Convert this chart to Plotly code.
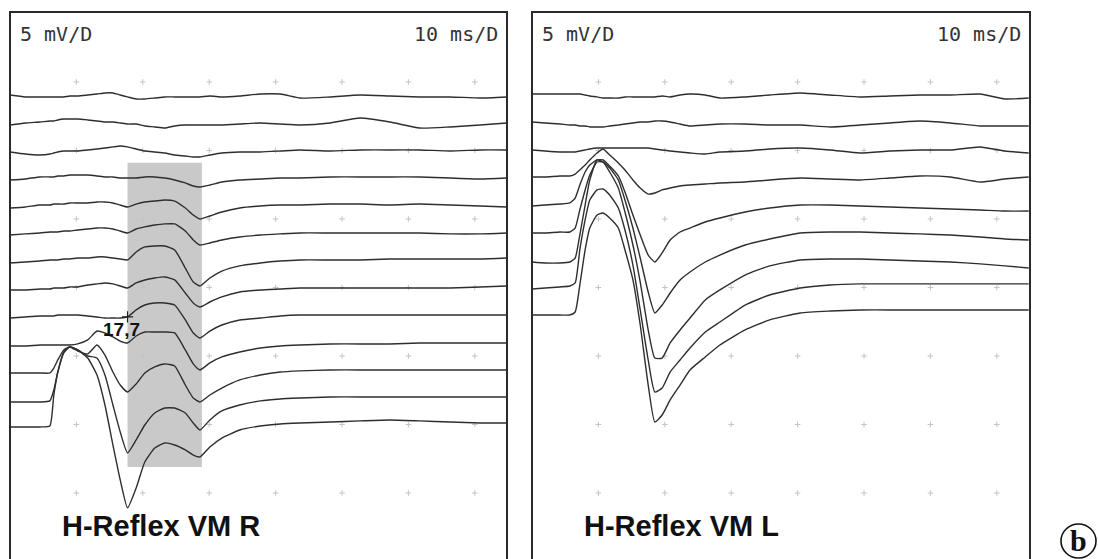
import plotly.graph_objects as go

W, H = 1098, 559

# ---------------- data (ms, mV) ----------------
left_t = [0.0, 2.3, 4.5, 6.0, 6.6, 7.2, 8.1, 9.0, 10.2, 11.7, 13.1, 14.3, 15.5, 16.6, 17.7, 19.0,
          20.3, 21.8, 23.3, 24.8, 26.4, 27.6, 28.6, 30.1, 31.9, 34.6, 37.7, 40.7, 43.7, 48.2,
          52.7, 57.2, 61.7, 66.3, 70.8, 74.8]

r_sweep_01 = [-5.95, -6.09, -6.09, -6.09, -6.09, -6.09, -6.09, -6.02, -6.02, -5.95, -5.88, -5.80, -5.80, -5.95, -6.09, -6.24, -6.24, -6.17, -6.09, -6.09, -6.09, -6.09, -6.09, -6.02, -6.09, -6.02, -5.88, -5.88, -6.17, -6.09, -5.95, -6.02, -6.09, -6.09, -6.17, -6.09]
r_sweep_02 = [-8.14, -7.99, -7.92, -7.85, -7.85, -7.77, -7.70, -7.70, -7.70, -7.77, -7.85, -7.92, -7.92, -7.99, -8.07, -8.07, -8.21, -8.28, -8.36, -8.21, -8.14, -8.14, -8.14, -8.14, -8.14, -8.07, -7.99, -8.07, -8.14, -7.99, -7.63, -7.92, -8.36, -8.28, -8.14, -7.99]
r_sweep_03 = [-10.11, -10.26, -10.33, -10.26, -10.18, -10.11, -10.04, -10.04, -10.04, -9.96, -9.89, -9.82, -9.74, -9.67, -9.74, -9.89, -10.04, -10.11, -10.18, -10.33, -10.40, -10.47, -10.47, -10.33, -10.18, -10.11, -10.11, -10.04, -9.96, -10.04, -9.96, -9.96, -9.96, -10.04, -9.96, -9.96]
r_sweep_04 = [-12.15, -12.08, -11.93, -11.93, -11.93, -11.86, -11.86, -11.79, -11.79, -11.79, -11.86, -11.93, -11.93, -12.01, -12.01, -12.01, -11.93, -11.93, -12.01, -12.15, -12.37, -12.59, -12.66, -12.52, -12.30, -12.15, -12.08, -12.01, -12.01, -11.93, -11.93, -11.93, -11.93, -12.01, -12.08, -12.01]
r_sweep_05 = [-14.20, -14.12, -13.98, -13.98, -13.91, -13.91, -13.91, -13.83, -13.83, -13.83, -13.76, -13.76, -13.83, -13.98, -14.12, -13.91, -13.76, -13.69, -13.61, -13.69, -14.20, -14.71, -15.00, -14.78, -14.49, -14.20, -14.05, -13.98, -13.98, -13.91, -13.91, -13.98, -13.91, -13.98, -14.05, -14.12]
r_sweep_06 = [-16.17, -16.09, -16.02, -15.95, -15.95, -15.95, -15.88, -15.88, -15.80, -15.73, -15.66, -15.66, -15.73, -15.88, -16.02, -15.73, -15.58, -15.44, -15.36, -15.36, -15.88, -16.53, -16.90, -16.75, -16.53, -16.31, -16.17, -16.09, -16.02, -16.02, -16.02, -16.02, -16.02, -16.09, -16.09, -16.02]
r_sweep_07 = [-18.21, -18.14, -18.07, -17.99, -17.99, -17.99, -17.92, -17.92, -17.85, -17.85, -17.77, -17.77, -17.85, -17.92, -17.99, -17.41, -17.04, -16.97, -16.97, -17.26, -18.58, -19.60, -19.89, -19.31, -18.80, -18.42, -18.21, -18.07, -17.99, -17.99, -17.99, -17.92, -17.92, -17.92, -17.92, -17.85]
r_sweep_08 = [-20.18, -20.18, -20.11, -20.11, -20.04, -20.04, -20.04, -19.96, -19.96, -19.82, -19.74, -19.67, -19.74, -19.89, -20.04, -19.67, -19.45, -19.31, -19.23, -19.45, -20.40, -21.13, -21.42, -21.06, -20.69, -20.33, -20.18, -20.11, -20.04, -20.04, -20.04, -20.04, -20.04, -20.04, -19.96, -19.89]
r_sweep_09 = [-22.23, -22.15, -22.08, -22.08, -22.08, -22.01, -22.01, -22.01, -22.01, -22.08, -22.15, -22.23, -22.23, -22.23, -22.15, -21.64, -21.28, -21.13, -21.13, -21.28, -22.37, -23.32, -23.69, -23.18, -22.74, -22.37, -22.23, -22.08, -22.01, -22.01, -22.01, -22.01, -22.01, -22.01, -22.01, -22.01]
r_sweep_10 = [-24.27, -24.27, -24.20, -24.20, -24.20, -24.20, -24.20, -24.20, -24.12, -23.83, -23.18, -23.32, -23.61, -23.91, -24.05, -23.54, -23.25, -23.25, -23.25, -23.32, -24.56, -25.58, -26.02, -25.51, -25.07, -24.71, -24.42, -24.27, -24.20, -24.12, -24.12, -24.12, -24.05, -24.05, -24.05, -24.05]
r_sweep_11 = [-26.24, -26.24, -26.24, -26.24, -25.88, -25.29, -24.56, -24.34, -24.64, -24.85, -24.20, -24.93, -26.17, -27.12, -27.63, -27.04, -26.24, -25.80, -25.58, -25.73, -27.12, -28.07, -28.36, -27.85, -27.34, -26.75, -26.39, -26.17, -26.09, -26.02, -26.02, -26.02, -26.02, -26.02, -26.02, -26.02]
r_sweep_12 = [-28.36, -28.36, -28.36, -28.28, -27.48, -26.17, -24.78, -24.34, -24.56, -25.00, -25.15, -26.39, -28.58, -30.55, -32.08, -31.13, -30.04, -29.16, -28.80, -28.80, -29.16, -29.89, -30.40, -29.67, -29.01, -28.58, -28.28, -28.14, -28.07, -27.99, -27.99, -27.99, -27.99, -27.99, -27.99, -27.99]
r_sweep_13 = [-30.18, -30.18, -30.18, -30.11, -27.85, -26.17, -24.71, -24.34, -24.56, -25.15, -26.39, -28.58, -31.50, -34.05, -36.09, -34.64, -32.74, -31.72, -31.35, -31.50, -31.86, -32.23, -32.37, -31.64, -30.99, -30.40, -30.11, -29.96, -29.89, -29.82, -29.74, -29.67, -29.74, -29.82, -29.89, -29.89]

right_t = [0.0, 2.0, 4.2, 5.7, 6.5, 7.2, 8.0, 8.7, 9.8, 10.7, 11.7, 13.0, 14.0, 15.2, 16.3, 17.5,
           18.5, 19.6, 20.8, 22.3, 23.8, 26.1, 28.3, 32.1, 35.8, 40.4, 44.9, 49.4, 53.9, 58.4,
           63.0, 67.5, 71.2, 74.8]

l_sweep_01 = [-5.88, -5.88, -5.88, -5.88, -5.88, -5.88, -5.95, -6.02, -6.09, -6.17, -6.17, -6.17, -6.09, -6.09, -6.09, -6.09, -6.09, -6.02, -6.09, -5.95, -5.88, -5.95, -6.17, -6.09, -5.95, -5.80, -5.95, -6.09, -6.02, -5.95, -5.95, -5.88, -6.24, -6.17]
l_sweep_02 = [-7.92, -7.99, -8.07, -8.14, -8.14, -8.21, -8.21, -8.28, -8.28, -8.28, -8.21, -8.14, -8.07, -7.99, -7.92, -7.92, -7.85, -7.85, -7.92, -8.07, -8.21, -8.14, -8.07, -8.07, -8.14, -8.14, -8.28, -8.14, -7.99, -7.85, -7.99, -8.21, -8.21, -8.21]
l_sweep_03 = [-9.96, -10.04, -10.11, -10.11, -10.11, -10.04, -9.96, -9.89, -9.82, -9.82, -9.82, -9.82, -9.82, -9.82, -9.82, -9.82, -9.89, -9.96, -10.04, -10.11, -10.18, -10.26, -10.11, -10.04, -9.89, -9.82, -9.96, -10.18, -10.04, -9.96, -9.96, -9.74, -10.04, -10.18]
l_sweep_04 = [-11.93, -11.93, -11.86, -11.86, -11.72, -11.42, -11.06, -10.69, -10.18, -9.89, -10.33, -10.91, -11.42, -12.15, -12.74, -13.18, -13.10, -12.88, -12.74, -12.59, -12.52, -12.45, -12.37, -12.30, -12.15, -12.01, -12.08, -12.15, -12.01, -11.86, -11.93, -12.30, -12.08, -11.93]
l_sweep_05 = [-14.05, -13.98, -13.91, -13.83, -13.47, -12.52, -11.57, -11.06, -10.69, -10.69, -11.13, -11.86, -13.03, -14.71, -16.17, -17.63, -18.14, -17.48, -16.53, -15.95, -15.66, -15.22, -14.93, -14.49, -14.20, -13.98, -13.98, -14.05, -14.12, -14.20, -14.27, -14.34, -14.42, -14.42]
l_sweep_06 = [-16.02, -16.02, -15.95, -15.95, -15.66, -14.34, -12.88, -11.79, -10.84, -10.84, -11.28, -12.15, -13.61, -15.66, -17.85, -20.33, -21.86, -21.28, -20.40, -19.45, -18.87, -18.14, -17.63, -16.90, -16.46, -16.02, -15.95, -15.95, -16.02, -16.09, -16.17, -16.31, -16.46, -16.53]
l_sweep_07 = [-18.14, -18.21, -18.21, -18.14, -17.85, -16.17, -13.98, -12.15, -10.69, -10.84, -11.57, -12.74, -14.49, -16.90, -19.60, -23.10, -25.15, -25.15, -24.05, -23.10, -22.23, -20.91, -20.18, -19.09, -18.42, -17.99, -17.92, -17.92, -17.99, -18.07, -18.14, -18.28, -18.42, -18.58]
l_sweep_08 = [-20.11, -20.04, -19.96, -19.89, -19.67, -17.26, -15.07, -13.61, -12.88, -12.81, -13.25, -14.20, -15.80, -18.36, -21.64, -25.29, -27.63, -27.34, -26.17, -25.29, -24.42, -23.25, -22.52, -21.28, -20.55, -20.04, -19.82, -19.74, -19.74, -19.74, -19.74, -19.74, -19.74, -19.74]
l_sweep_09 = [-22.01, -22.01, -22.01, -22.01, -21.79, -19.82, -17.26, -15.66, -14.71, -14.56, -14.93, -15.66, -17.26, -19.45, -22.74, -27.12, -29.82, -29.31, -28.21, -27.12, -26.02, -25.07, -24.20, -23.10, -22.37, -21.86, -21.72, -21.64, -21.64, -21.64, -21.64, -21.64, -21.64, -21.64]

right_sweeps = [r_sweep_01, r_sweep_02, r_sweep_03, r_sweep_04, r_sweep_05, r_sweep_06, r_sweep_07,
                r_sweep_08, r_sweep_09, r_sweep_10, r_sweep_11, r_sweep_12, r_sweep_13]
left_sweeps = [l_sweep_01, l_sweep_02, l_sweep_03, l_sweep_04, l_sweep_05, l_sweep_06, l_sweep_07,
               l_sweep_08, l_sweep_09]

grid_t = [10, 20, 30, 40, 50, 60, 70]
grid_mv = [-5, -10, -15, -20, -25, -30, -35]

h_window = [17.7, 28.9]          # ms, shaded H-wave window (right leg)
h_window_mv = [-10.9, -33.1]
latency_ms, latency_mv = 17.7, -22.15
latency_label = "17,7"

panel_titles = ["H-Reflex VM R", "H-Reflex VM L"]
scale_v = "5 mV/D"
scale_t = "10 ms/D"

# ---------------- figure ----------------
TRACE_COL = "#2e2e2e"
FRAME_COL = "#2a2a2a"

fig = go.Figure()

def px(x):
    return x / W

def py(y):
    return 1 - y / H

for xa, ya in (("x", "y"), ("x2", "y2")):
    gx = [t for t in grid_t for _ in grid_mv]
    gy = [v for _ in grid_t for v in grid_mv]
    fig.add_trace(go.Scatter(x=gx, y=gy, xaxis=xa, yaxis=ya, mode="markers",
                             marker=dict(symbol="cross-thin", size=4,
                                         line=dict(color="#c4c4c4", width=1)),
                             hoverinfo="skip", showlegend=False))

for s in right_sweeps:
    fig.add_trace(go.Scatter(x=left_t, y=s, xaxis="x", yaxis="y", mode="lines",
                             line=dict(color=TRACE_COL, width=1.4, shape="spline", smoothing=0.5),
                             hoverinfo="skip", showlegend=False))
for s in left_sweeps:
    fig.add_trace(go.Scatter(x=right_t, y=s, xaxis="x2", yaxis="y2", mode="lines",
                             line=dict(color=TRACE_COL, width=1.4, shape="spline", smoothing=0.5),
                             hoverinfo="skip", showlegend=False))

fig.add_trace(go.Scatter(x=[latency_ms], y=[latency_mv], xaxis="x", yaxis="y", mode="markers",
                         marker=dict(symbol="cross-thin", size=8, line=dict(color="#222", width=1.2)),
                         hoverinfo="skip", showlegend=False))

axis_common = dict(visible=False, fixedrange=True)
fig.update_layout(
    width=W, height=H,
    margin=dict(l=0, r=0, t=0, b=0),
    paper_bgcolor="white", plot_bgcolor="rgba(0,0,0,0)",
    xaxis=dict(domain=[px(10), px(508)], range=[0, 75], anchor="y", **axis_common),
    yaxis=dict(domain=[0, py(12)], range=[-39.82, 0.11], anchor="x", **axis_common),
    xaxis2=dict(domain=[px(532), px(1030)], range=[0, 75], anchor="y2", **axis_common),
    yaxis2=dict(domain=[0, py(12)], range=[-39.82, 0.11], anchor="x2", **axis_common),
    showlegend=False,
)

shapes = [
    dict(type="rect", xref="x", yref="y", x0=h_window[0], x1=h_window[1],
         y0=h_window_mv[1], y1=h_window_mv[0], fillcolor="#c9c9c9", line=dict(width=0),
         layer="below"),
]
for L, R in ((10, 507), (532, 1030)):
    path = f"M {px(L)},{py(H)} L {px(L)},{py(12)} L {px(R)},{py(12)} L {px(R)},{py(H)}"
    shapes.append(dict(type="path", xref="paper", yref="paper", path=path,
                       line=dict(color=FRAME_COL, width=2)))
shapes.append(dict(type="circle", xref="paper", yref="paper",
                   x0=px(1061), x1=px(1096), y0=py(558), y1=py(524),
                   line=dict(color="#111", width=1.6)))
fig.update_layout(shapes=shapes)

mono = "DejaVu Sans Mono"
ann = []
for L, R in ((10, 507), (532, 1030)):
    ann.append(dict(text=scale_v, x=px(L + 8), y=py(34), xref="paper", yref="paper",
                    xanchor="left", yanchor="middle", showarrow=False,
                    font=dict(family=mono, size=20, color="#333")))
    ann.append(dict(text=scale_t, x=px(R - 7), y=py(34), xref="paper", yref="paper",
                    xanchor="right", yanchor="middle", showarrow=False,
                    font=dict(family=mono, size=20, color="#333")))
ann.append(dict(text=f"<b>{panel_titles[0]}</b>", x=px(60), y=py(526), xref="paper", yref="paper",
                xanchor="left", yanchor="middle", showarrow=False,
                font=dict(family="Liberation Sans", size=29, color="#111")))
ann.append(dict(text=f"<b>{panel_titles[1]}</b>", x=px(582), y=py(526), xref="paper", yref="paper",
                xanchor="left", yanchor="middle", showarrow=False,
                font=dict(family="Liberation Sans", size=29, color="#111")))
ann.append(dict(text=f"<b>{latency_label}</b>", x=px(121.5), y=py(329.5), xref="paper", yref="paper",
                xanchor="center", yanchor="middle", showarrow=False,
                font=dict(family="Liberation Sans", size=19, color="#111")))
ann.append(dict(text="<b>b</b>", x=px(1078.5), y=py(540), xref="paper", yref="paper",
                xanchor="center", yanchor="middle", showarrow=False,
                font=dict(family="Liberation Serif", size=30, color="#111")))
fig.update_layout(annotations=ann)

fig.write_html("out.html")
